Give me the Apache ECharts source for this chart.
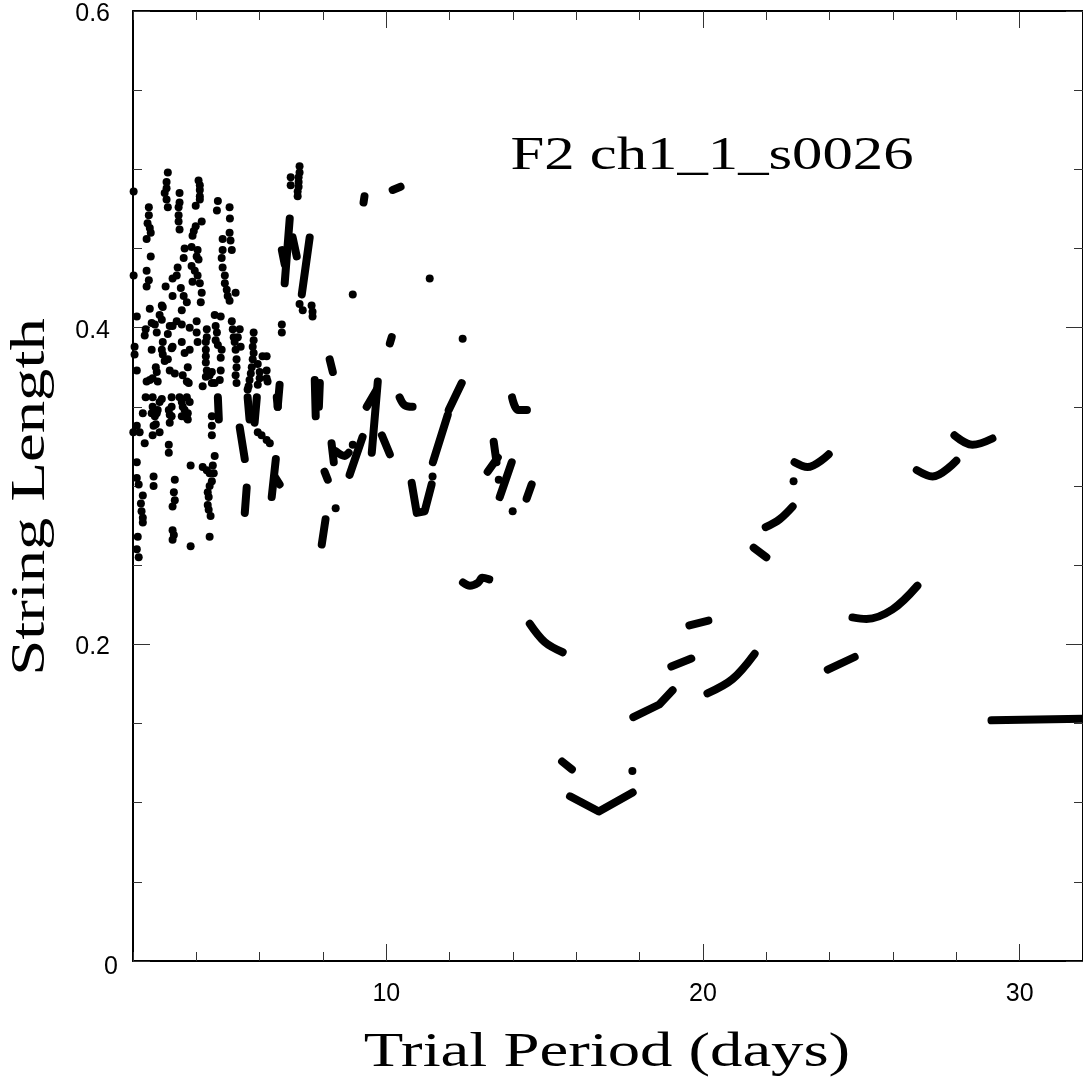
<!DOCTYPE html>
<html><head><meta charset="utf-8">
<script src="https://cdn.jsdelivr.net/npm/echarts@6/dist/echarts.min.js"></script>
<style>html,body{margin:0;padding:0;background:#fff}#c{width:1083px;height:1082px}</style>
</head><body><div id="c"></div>
<script>
// ---- tick values ----
const xMajorTicks = [10, 20, 30];
const yMajorTicks = [0, 0.2, 0.4, 0.6];

// ---- isolated points (trial period, string length) ----
const dotsLeft = [
[2.02,0.486],[2.02,0.433],[2.05,0.388],[2.05,0.383],[2.12,0.373],[2.12,0.407],[2.01,0.334],[2.12,0.338],[2.21,0.334],[2.37,0.327],[2.12,0.315],[2.12,0.305],[2.18,0.301],[2.31,0.294],[2.25,0.289],[2.27,0.284],[2.31,0.280],[2.31,0.277],[2.15,0.268],[2.12,0.260],[2.18,0.255],
[2.50,0.476],[2.50,0.471],[2.46,0.466],[2.53,0.463],[2.56,0.460],[2.43,0.456],[2.56,0.445],[2.43,0.436],[2.50,0.430],[2.43,0.426],[2.53,0.412],[2.40,0.399],[2.37,0.395],[2.59,0.403],[2.69,0.402],[2.84,0.408],[2.91,0.414],[2.94,0.413],[2.91,0.405],[2.75,0.397],[2.59,0.386],[2.43,0.366],[2.53,0.367],[2.62,0.368],[2.72,0.375],[2.75,0.372],[2.78,0.366],[2.40,0.356],[2.62,0.356],[2.91,0.355],[2.84,0.353],[2.62,0.350],[2.78,0.348],[2.75,0.346],[2.59,0.346],[2.69,0.344],[2.31,0.346],[2.65,0.338],[2.72,0.339],[2.84,0.334],[2.62,0.332],[2.65,0.306],[2.65,0.300],
[2.94,0.391],[2.91,0.386],[2.94,0.383],[3.00,0.379],[3.10,0.380],[3.10,0.396],[3.06,0.492],[3.06,0.488],[3.00,0.485],[3.06,0.481],[3.10,0.476],[3.10,0.498],[3.03,0.426],[3.13,0.348],[3.13,0.326],[3.13,0.321],
[3.16,0.401],[3.25,0.401],[3.38,0.404],[3.22,0.387],[3.25,0.388],[3.16,0.373],[3.32,0.371],[3.22,0.356],[3.22,0.350],[3.16,0.345],[3.22,0.344],[3.16,0.340],[3.32,0.304],[3.29,0.296],[3.32,0.291],[3.25,0.287],[3.25,0.272],[3.29,0.269],[3.25,0.266],[3.47,0.485],[3.47,0.479],[3.44,0.476],[3.44,0.471],[3.44,0.467],[3.47,0.462],[3.41,0.438],[3.25,0.431],[3.38,0.433],[3.25,0.420],[3.47,0.356]
];
const dotsMid = [
[3.54,0.402],[3.54,0.411],[3.54,0.391],[3.79,0.400],[4.01,0.404],[4.01,0.397],[4.04,0.391],[3.79,0.386],[3.63,0.384],[3.73,0.375],[3.57,0.370],[3.70,0.366],[3.76,0.365],[3.54,0.353],[3.57,0.350],[3.63,0.348],[3.54,0.344],[3.70,0.343],[3.73,0.346],[3.79,0.353],[3.70,0.356],[3.73,0.342],[3.82,0.313],[3.82,0.262],
[4.07,0.493],[4.11,0.490],[4.11,0.487],[4.11,0.483],[4.11,0.481],[3.98,0.477],[4.17,0.467],[3.63,0.450],[3.98,0.464],[3.92,0.461],[3.88,0.458],[3.85,0.451],[4.04,0.449],[4.01,0.445],[4.07,0.443],[3.60,0.444],[3.85,0.439],[3.95,0.436],[4.04,0.433],[3.88,0.429],[4.11,0.428],[4.17,0.422],[4.14,0.416],[3.51,0.425],[3.60,0.420],[3.70,0.416],
[4.68,0.480],[4.65,0.474],[4.83,0.456],[4.83,0.449],[4.80,0.444],[4.83,0.438],[4.90,0.433],[4.90,0.428],[4.96,0.424],[4.99,0.420],
[4.33,0.399],[4.33,0.394],[4.30,0.391],[4.30,0.386],[4.30,0.382],[4.30,0.378],[4.33,0.373],[4.30,0.369],[4.20,0.363],[4.42,0.370],[4.49,0.372],[4.58,0.408],[4.61,0.401],[4.65,0.397],[4.61,0.392],[4.68,0.389],[4.77,0.407],[4.80,0.386],[4.77,0.381],[4.77,0.373],[4.74,0.367],[4.58,0.365],[4.49,0.365],[4.49,0.344],[4.49,0.338],[4.49,0.332],[4.58,0.319],
[4.20,0.312],[4.33,0.310],[4.42,0.308],[4.52,0.313],[4.55,0.308],[4.49,0.303],[4.42,0.300],[4.36,0.296],[4.39,0.293],[4.36,0.288],[4.39,0.285],[4.45,0.281],[4.42,0.268]
];
const dotsRight = [
[5.05,0.476],[5.06,0.469],[5.05,0.417],[5.05,0.460],[5.08,0.455],[5.12,0.449],[5.24,0.422],[5.12,0.404],[5.15,0.399],[5.18,0.394],[5.21,0.391],[5.24,0.386],[5.27,0.380],[5.27,0.375],[5.24,0.370],[5.27,0.365],[5.37,0.399],[5.31,0.394],[5.40,0.388],
[5.81,0.397],[5.81,0.392],[5.78,0.388],[5.81,0.384],[5.78,0.380],[5.75,0.375],[5.72,0.371],[5.68,0.367],[5.65,0.363],[5.62,0.361],[5.94,0.377],[6.00,0.372],[6.00,0.368],[5.94,0.364],[6.09,0.382],[6.22,0.382],[6.22,0.373],[6.22,0.368],[6.25,0.366],[5.94,0.334],[6.06,0.332],[6.22,0.329],[6.32,0.327],
[6.98,0.495],[6.98,0.490],[7.26,0.502],[7.26,0.498],[7.23,0.495],[7.23,0.492],[7.23,0.489],[7.20,0.486],[7.20,0.483],[6.70,0.402],[6.70,0.397],[7.26,0.415],[7.36,0.411],[7.64,0.414],[7.67,0.410],[7.67,0.407],
[8.40,0.286],[8.94,0.421],[8.94,0.326],[11.37,0.431],[12.41,0.393],[11.46,0.306],[13.55,0.304],[13.99,0.284],[22.86,0.303],[17.77,0.120]
];

// ---- continuous runs of points, drawn as thick strokes ----
const straightRuns = [
[[4.68,0.356],[4.71,0.342]],
[[5.37,0.337],[5.53,0.317]],
[[5.59,0.299],[5.53,0.283]],
[[6.51,0.317],[6.38,0.293]],
[[6.47,0.306],[6.63,0.301]],
[[6.54,0.356],[6.57,0.350]],
[[5.62,0.356],[5.68,0.342]],
[[5.91,0.356],[5.84,0.340]],
[[6.63,0.364],[6.57,0.350]],
[[6.95,0.469],[6.79,0.428]],
[[6.70,0.449],[6.79,0.440]],
[[7.04,0.457],[7.17,0.445]],
[[7.58,0.457],[7.33,0.421]],
[[7.74,0.367],[7.77,0.344]],
[[7.90,0.365],[7.87,0.350]],
[[8.21,0.380],[8.31,0.372]],
[[8.08,0.279],[7.96,0.263]],
[[8.27,0.327],[8.34,0.315]],
[[8.84,0.307],[9.25,0.331]],
[[8.05,0.309],[8.15,0.304]],
[[9.31,0.483],[9.28,0.479]],
[[10.20,0.487],[10.45,0.489]],
[[10.11,0.390],[10.17,0.394]],
[[9.73,0.366],[9.54,0.321]],
[[9.38,0.350],[9.70,0.361]],
[[9.86,0.332],[10.11,0.320]],
[[10.80,0.302],[10.96,0.283],[11.21,0.284],[11.43,0.301]],
[[12.38,0.365],[11.97,0.348]],
[[11.94,0.345],[11.47,0.315]],
[[13.39,0.328],[13.48,0.315]],
[[13.20,0.309],[13.52,0.318]],
[[13.96,0.315],[13.58,0.293]],
[[14.59,0.301],[14.43,0.292]],
[[15.55,0.126],[15.86,0.121]],
[[15.80,0.104],[16.71,0.0944],[17.78,0.1064]],
[[17.80,0.154],[18.62,0.162],[19.04,0.171]],
[[19.00,0.186],[19.63,0.191]],
[[19.57,0.212],[20.17,0.215]],
[[21.60,0.261],[22.00,0.255]],
[[23.94,0.184],[24.79,0.192]],
[[29.11,0.152],[32.00,0.153]]
];
const curvedRuns = [
[[8.40,0.322],[8.69,0.319],[8.81,0.321]],
[[10.42,0.356],[10.58,0.351],[10.83,0.350]],
[[12.42,0.239],[12.64,0.237],[12.90,0.239],[13.03,0.242],[13.25,0.241]],
[[13.97,0.356],[14.16,0.348],[14.44,0.348]],
[[14.53,0.213],[15.00,0.2015],[15.57,0.195]],
[[20.14,0.169],[20.93,0.178],[21.63,0.194]],
[[21.98,0.274],[22.42,0.279],[22.83,0.287]],
[[22.89,0.315],[23.30,0.312],[23.97,0.320]],
[[24.72,0.217],[25.16,0.216],[25.98,0.222],[26.77,0.237]],
[[26.75,0.310],[27.25,0.306],[28.00,0.316]],
[[27.94,0.332],[28.51,0.326],[29.14,0.330]]
];

const chart = echarts.init(document.getElementById('c'), null, {renderer: 'canvas'});
const serifFont = '"Liberation Serif", "DejaVu Serif", serif';
const labelFont = '"Liberation Sans", Arial, sans-serif';
const tickStyle = {color: '#333', width: 1};

function runSeries(run, smooth) {
  return {
    type: 'line', data: run, smooth: smooth ? 0.35 : false,
    symbol: 'none', showSymbol: false,
    lineStyle: {color: '#000', width: 8, cap: 'round', join: 'round', opacity: 1},
    silent: true, animation: false, z: 2
  };
}
function dotSeries(data) {
  return {type: 'scatter', data: data, symbol: 'circle', symbolSize: 8,
          itemStyle: {color: '#000', opacity: 1}, silent: true, animation: false, z: 3};
}
function xAxisDef(pos, major, labels) {
  return {
    type: 'value', position: pos, min: 2, max: 32,
    interval: major ? undefined : 2,
    axisLine: {show: !major, onZero: false, lineStyle: {color: '#000', width: 2}},
    axisTick: major ? {customValues: xMajorTicks, inside: true, length: 17, lineStyle: tickStyle}
                    : {inside: true, length: 9, lineStyle: tickStyle},
    axisLabel: labels ? {customValues: xMajorTicks, margin: 21, fontSize: 25, color: '#000', fontFamily: labelFont}
                      : {show: false},
    splitLine: {show: false}
  };
}
function yAxisDef(pos, labels) {
  return {
    type: 'value', position: pos, min: 0, max: 0.6, interval: 0.2,
    axisLine: {show: true, onZero: false, lineStyle: {color: '#000', width: 2}},
    axisTick: {inside: true, length: 17, lineStyle: tickStyle},
    minorTick: {show: true, splitNumber: 4, length: 9, lineStyle: tickStyle},
    axisLabel: labels ? {
      margin: 15, color: '#000', fontSize: 25, fontFamily: labelFont,
      formatter: function (v) { return Math.abs(v) < 1e-9 ? '{z|0}' : '{n|' + v.toFixed(1) + '}'; },
      rich: {
        z: {fontSize: 25, fontFamily: labelFont, color: '#000', padding: [12, 0, 0, 0]},
        n: {fontSize: 25, fontFamily: labelFont, color: '#000', padding: [6, 8, 0, 0]}
      }
    } : {show: false},
    splitLine: {show: false}, minorSplitLine: {show: false}
  };
}

const series = [];
straightRuns.forEach(r => series.push(runSeries(r, false)));
curvedRuns.forEach(r => series.push(runSeries(r, true)));
series.push(dotSeries(dotsLeft), dotSeries(dotsMid), dotSeries(dotsRight));

function label(text, x, y, size, sx, rot) {
  return {type: 'text', x: x, y: y, rotation: rot || 0, scaleX: sx, scaleY: 1,
    style: {text: text, fontSize: size, fontFamily: serifFont, fill: '#000',
            stroke: '#fff', lineWidth: 1.6, strokeFirst: false,
            align: 'center', verticalAlign: 'middle', textAlign: 'center', textVerticalAlign: 'middle'}};
}

chart.setOption({
  animation: false,
  backgroundColor: '#fff',
  grid: {left: 133, top: 11, width: 951, height: 950, containLabel: false},
  xAxis: [xAxisDef('bottom', false, true), xAxisDef('bottom', true, false),
          xAxisDef('top', false, false), xAxisDef('top', true, false)],
  yAxis: [yAxisDef('left', true), yAxisDef('right', false)],
  series: series,
  graphic: [
    label('F2 ch1_1_s0026', 712, 157, 46, 1.32, 0),
    label('Trial Period (days)', 607, 1053, 49, 1.32, 0),
    label('String Length', 31, 497, 49, 1.32, Math.PI / 2)
  ]
});
</script></body></html>
